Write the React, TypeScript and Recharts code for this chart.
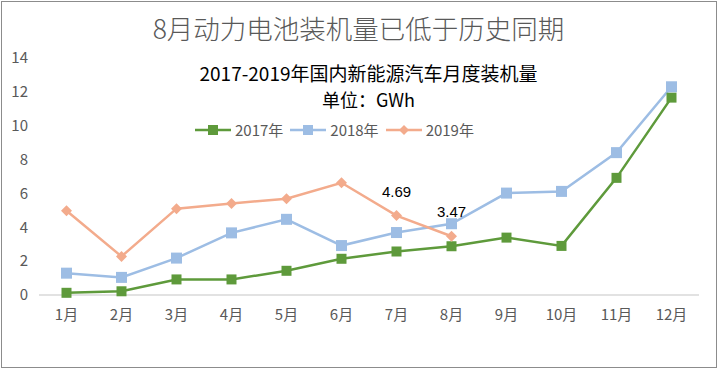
import React from "react";
import { LineChart, Line, XAxis, YAxis, LabelList } from "recharts";

const months = ["1月", "2月", "3月", "4月", "5月", "6月", "7月", "8月", "9月", "10月", "11月", "12月"];
const s2017 = [0.13, 0.22, 0.92, 0.92, 1.43, 2.14, 2.57, 2.88, 3.39, 2.9, 6.92, 11.66];
const s2018 = [1.29, 1.04, 2.18, 3.67, 4.47, 2.92, 3.69, 4.21, 6.02, 6.12, 8.41, 12.3];
const s2019: (number | null)[] = [4.98, 2.28, 5.1, 5.41, 5.69, 6.63, 4.69, 3.47, null, null, null, null];
const labels2019 = ["", "", "", "", "", "", "4.69", "3.47", "", "", "", ""];
const yTicks = [0, 2, 4, 6, 8, 10, 12, 14];
const seriesNames = ["2017年", "2018年", "2019年"];
const title = "8月动力电池装机量已低于历史同期";
const subtitle1 = "2017-2019年国内新能源汽车月度装机量";
const subtitle2 = "单位：GWh";

const C17 = "#5E9A3B";
const C18 = "#9DBDE4";
const C19 = "#F3AB8C";

const data = months.map((m, i) => ({
  month: m,
  y2017: s2017[i],
  y2018: s2018[i],
  y2019: s2019[i],
  lab: labels2019[i],
}));

const CJK = "'Noto Sans CJK SC', sans-serif";

const SquareDot = (color: string, size: number) => (props: any) => {
  const { cx, cy, index } = props;
  if (cx == null || cy == null || props.value == null) return <g key={index} />;
  return <rect key={index} x={cx - size / 2} y={cy - size / 2} width={size} height={size} fill={color} />;
};

const DiamondDot = (color: string, r: number) => (props: any) => {
  const { cx, cy, index } = props;
  if (cx == null || cy == null || props.value == null) return <g key={index} />;
  return (
    <polygon
      key={index}
      points={`${cx},${cy - r} ${cx + r},${cy} ${cx},${cy + r} ${cx - r},${cy}`}
      fill={color}
    />
  );
};

const renderLabel = (props: any) => {
  const { x, y, value, index } = props;
  if (!value) return <g key={index} />;
  return (
    <text
      key={index}
      x={x}
      y={y - 19}
      textAnchor="middle"
      fontFamily="'Liberation Sans', Arial, sans-serif"
      fontSize={15}
      fill="#000"
    >
      {value}
    </text>
  );
};

const LegendIcon = ({ color, kind }: { color: string; kind: string }) => (
  <svg width={36} height={12} style={{ display: "block" }}>
    <line x1={0} y1={6} x2={36} y2={6} stroke={color} strokeWidth={2.5} />
    {kind === "square" ? (
      <rect x={13} y={1} width={10} height={10} fill={color} />
    ) : (
      <polygon points="18,1 23,6 18,11 13,6" fill={color} />
    )}
  </svg>
);

const legendItems = [
  { name: seriesNames[0], color: C17, kind: "square" },
  { name: seriesNames[1], color: C18, kind: "square" },
  { name: seriesNames[2], color: C19, kind: "diamond" },
];

export default function App() {
  return (
    <div style={{ position: "absolute", left: 0, top: 0, width: 717, height: 368, background: "#fff" }}>
      <LineChart
        width={717}
        height={368}
        data={data}
        margin={{ top: 58, right: 18, bottom: 72, left: 0 }}
      >
        <XAxis
          dataKey="month"
          padding={{ left: 27.5, right: 27.5 }}
          axisLine={{ stroke: "#D9D9D9", strokeWidth: 1.5 }}
          tickLine={false}
          tickSize={0}
          tickMargin={14}
          tick={{ fill: "#595959", fontSize: 15, fontFamily: CJK }}
          interval={0}
          height={1}
        />
        <YAxis
          width={39}
          domain={[0, 14]}
          ticks={yTicks}
          axisLine={false}
          tickLine={false}
          tickSize={0}
          tickMargin={11}
          tick={{ fill: "#595959", fontSize: 15, fontFamily: CJK }}
        />
        <Line
          type="linear"
          dataKey="y2017"
          stroke={C17}
          strokeWidth={2.5}
          dot={SquareDot(C17, 10)}
          activeDot={false}
          isAnimationActive={false}
        />
        <Line
          type="linear"
          dataKey="y2018"
          stroke={C18}
          strokeWidth={2.5}
          dot={SquareDot(C18, 11)}
          activeDot={false}
          isAnimationActive={false}
        />
        <Line
          type="linear"
          dataKey="y2019"
          stroke={C19}
          strokeWidth={2.5}
          dot={DiamondDot(C19, 5.5)}
          activeDot={false}
          isAnimationActive={false}
        >
          <LabelList dataKey="lab" content={renderLabel} />
        </Line>
      </LineChart>
      <div
        style={{
          position: "absolute",
          left: 0,
          top: 12,
          width: 717,
          textAlign: "center",
          fontFamily: CJK,
          fontSize: 26.5,
          lineHeight: "32px",
          color: "#595959",
          fontWeight: 300,
        }}
      >
        {title}
      </div>
      <div
        style={{
          position: "absolute",
          left: 10,
          top: 61,
          width: 717,
          textAlign: "center",
          fontFamily: CJK,
          fontSize: 19,
          lineHeight: "24px",
          color: "#000",
        }}
      >
        {subtitle1}
      </div>
      <div
        style={{
          position: "absolute",
          left: 10,
          top: 88,
          width: 717,
          textAlign: "center",
          fontFamily: CJK,
          fontSize: 18,
          lineHeight: "22px",
          color: "#000",
        }}
      >
        {subtitle2}
      </div>
      <div
        style={{
          position: "absolute",
          left: 195,
          top: 121,
          display: "flex",
          alignItems: "center",
        }}
      >
        {legendItems.map((it) => (
          <div key={it.name} style={{ display: "flex", alignItems: "center", marginRight: 7 }}>
            <LegendIcon color={it.color} kind={it.kind} />
            <span style={{ fontFamily: CJK, fontSize: 15, color: "#595959", marginLeft: 4, lineHeight: "18px" }}>
              {it.name}
            </span>
          </div>
        ))}
      </div>
      <div
        style={{
          position: "absolute",
          left: 1,
          top: 1,
          width: 714,
          height: 365,
          border: "1px solid #8C8C8C",
          pointerEvents: "none",
        }}
      />
    </div>
  );
}
